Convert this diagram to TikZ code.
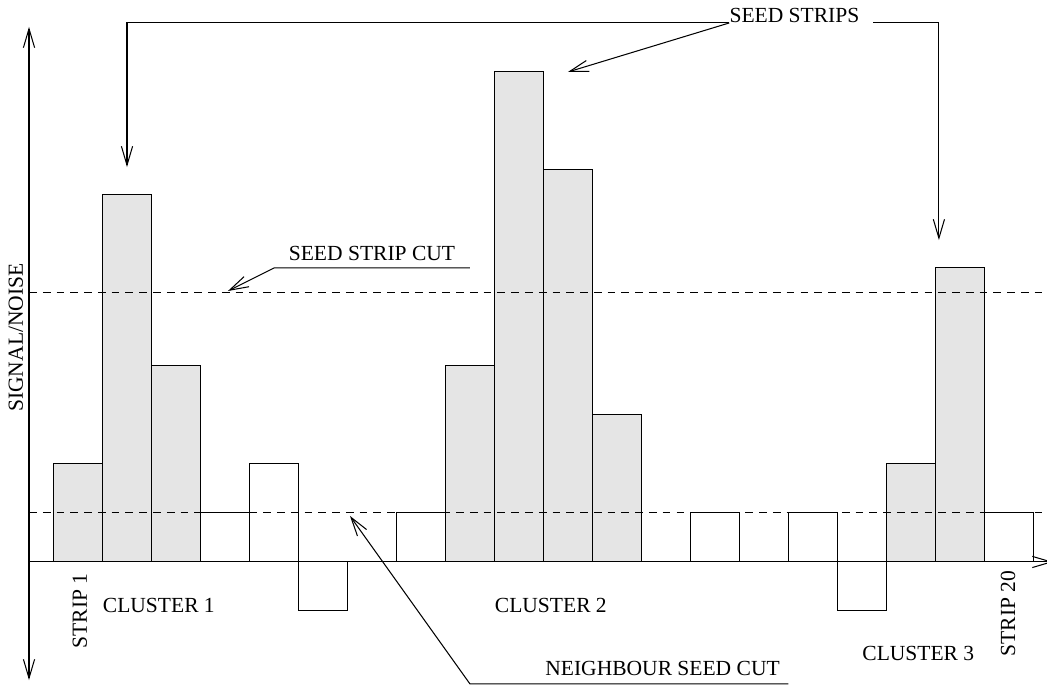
\documentclass[tikz,border=0pt]{standalone}
\usepackage{fontspec}
\setmainfont{Liberation Serif}
\usetikzlibrary{positioning, arrows.meta, calc}

\begin{document}
\begin{tikzpicture}[
    x=1cm, y=1cm,
    axis/.style={
        line width=0.6pt
    },
    stripbar/.style={
        draw,
        line width=0.6pt,
        fill=white
    },
    seedbar/.style={
        stripbar,
        fill=gray!20
    },
    cut/.style={
        line width=0.6pt,
        dash pattern=on 4.5pt off 3.5pt
    },
    pointer/.style={
        -{Straight Barb[length=11pt,width=6.5pt]},
        line width=0.6pt
    },
    tag/.style={
        font=\fontsize{12.5}{14}\selectfont,
        inner sep=0pt
    }
]
\useasboundingbox (-0.592,-2.531) rectangle (20.776,11.469);

% ===== strips =====
\foreach \x/\h in {4/1, 5/2, 6/-1, 8/1, 14/1, 16/1, 17/-1, 20/1} {
    \draw[stripbar] (\x-0.5,0) rectangle (\x+0.5,\h);
}
\foreach \x/\h in {1/2, 2/7.5, 3/4, 9/4, 10/10, 11/8, 12/3, 18/2, 19/6} {
    \draw[seedbar] (\x-0.5,0) rectangle (\x+0.5,\h);
}

% ===== cuts =====
\draw[cut] (0,5.5) -- (20.8,5.5);
\draw[cut] (0,1) -- (20.8,1);

% ===== axes =====
\coordinate (ytop) at (0,10.92);
\coordinate (ybot) at (0,-2.41);
\coordinate (orig) at (0,0);
\coordinate (xend) at (20.9,0);
\draw[axis, {Straight Barb[length=11pt,width=6.5pt]}-{Straight Barb[length=11pt,width=6.5pt]}] (ybot) -- (ytop);
\draw[axis, -{Straight Barb[length=11pt,width=6.5pt]}] (orig) -- (xend);
\node[tag, rotate=90] (ylab) at (-0.27,4.58) {SIGNAL/NOISE};

% ===== strip and cluster labels =====
\node[tag, rotate=90] (strip1) at (1.04,-1.0) {STRIP 1};
\node[tag, rotate=90] (strip20) at (19.98,-1.05) {STRIP 20};
\node[tag] (cl1) at (2.65,-0.88) {CLUSTER 1};
\node[tag] (cl2) at (10.65,-0.88) {CLUSTER 2};
\node[tag] (cl3) at (18.15,-1.86) {CLUSTER 3};

% ===== seed strips =====
\node[tag, anchor=base west] (seeds) at (14.29,11.0) {SEED STRIPS};
\coordinate (seedA) at (2.0,8.06);
\coordinate (seedB) at (11.0,10.0);
\coordinate (seedC) at (18.57,6.57);
\draw[pointer] (seeds.base west) -| (seedA);
\draw[pointer] (seeds.base west) -- (seedB);
\draw[pointer] ([xshift=0.28cm]seeds.base east) -| (seedC);

% ===== seed strip cut =====
\node[tag, anchor=base] (sscut) at (7.0,6.15) {SEED STRIP CUT};
\coordinate (ssL) at (5.0,6.0);
\coordinate (ssR) at (9.0,6.0);
\coordinate (ssTip) at (4.06,5.53);
\draw[pointer] (ssR) -- (ssL) -- (ssTip);

% ===== neighbour seed cut =====
\node[tag, anchor=base] (nbcut) at (12.93,-2.31) {NEIGHBOUR SEED CUT};
\coordinate (nbL) at (9.0,-2.49);
\coordinate (nbR) at (15.5,-2.49);
\coordinate (nbTip) at (6.55,0.94);
\draw[pointer] (nbR) -- (nbL) -- (nbTip);

\end{tikzpicture}
\end{document}
